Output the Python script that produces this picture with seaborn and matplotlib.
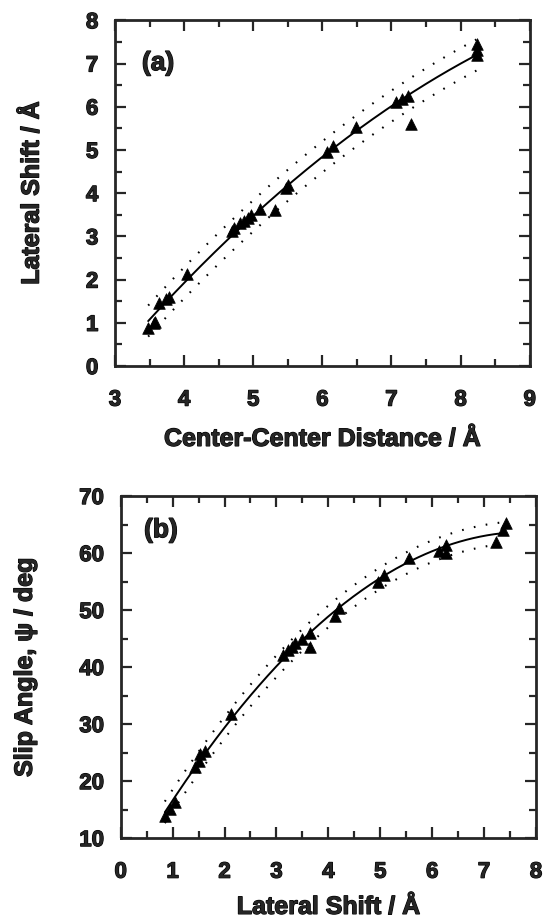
import numpy as np
import pandas as pd
import matplotlib
matplotlib.use("Agg")
import matplotlib.pyplot as plt
import matplotlib.patheffects as pe
from matplotlib.ticker import MultipleLocator
import seaborn as sns

# ---- data ----
a_distance = [3.48, 3.56, 3.58, 3.64, 3.74, 3.78, 4.04, 4.69, 4.72, 4.81, 4.86, 4.92,
              4.97, 5.10, 5.32, 5.47, 5.50, 6.06, 6.15, 6.49, 7.06, 7.15, 7.24, 7.28,
              8.23, 8.23, 8.24]
a_shift = [0.87, 0.99, 1.03, 1.46, 1.55, 1.60, 2.13, 3.13, 3.20, 3.30, 3.36, 3.42,
           3.49, 3.64, 3.62, 4.13, 4.20, 4.96, 5.10, 5.52, 6.11, 6.18, 6.24, 5.61,
           7.20, 7.31, 7.46]

b_shift = [0.85, 0.95, 1.04, 1.43, 1.51, 1.53, 1.62, 2.13, 3.13, 3.22, 3.30, 3.35,
           3.50, 3.64, 3.64, 4.12, 4.20, 4.95, 5.08, 5.55, 6.13, 6.26, 6.26, 7.22,
           7.36, 7.42]
b_angle = [13.8, 15.1, 16.4, 22.4, 23.6, 24.8, 25.2, 31.8, 42.1, 43.0, 43.6, 44.2,
           45.0, 45.9, 43.5, 49.0, 50.4, 55.0, 56.1, 59.1, 60.4, 61.4, 60.0, 61.9,
           64.1, 65.2]

a_band = 0.36   # half-width of dotted band (Å)
b_band = 1.9    # half-width of dotted band (deg)

sns.set_style("ticks")
plt.rcParams['font.family'] = ['Liberation Sans', 'DejaVu Sans']
plt.rcParams['font.weight'] = 'bold'
plt.rcParams['axes.labelweight'] = 'bold'

HEAVY = [pe.withStroke(linewidth=0.9, foreground='black')]

fig = plt.figure(figsize=(5.45, 9.22), dpi=100)
ax1 = fig.add_axes([0.211, 0.603, 0.761, 0.375])
ax2 = fig.add_axes([0.2215, 0.091, 0.762, 0.371])


def fit_curve(x, y, deg=2, n=200):
    x = np.asarray(x); y = np.asarray(y)
    c = np.polyfit(x, y, deg)
    xs = np.linspace(x.min(), x.max(), n)
    return xs, np.polyval(c, xs)


def draw(ax, x, y, band):
    df = pd.DataFrame({'x': x, 'y': y})
    xs, ys = fit_curve(x, y)
    fit = pd.DataFrame({'x': xs, 'y': ys, 'lo': ys - band, 'hi': ys + band})
    sns.lineplot(data=fit, x='x', y='y', ax=ax, color='black', lw=1.4)
    sns.lineplot(data=fit, x='x', y='hi', ax=ax, color='black', lw=1.5,
                 linestyle=(0, (0.8, 5)))
    sns.lineplot(data=fit, x='x', y='lo', ax=ax, color='black', lw=1.5,
                 linestyle=(0, (0.8, 5)))
    sns.scatterplot(data=df, x='x', y='y', ax=ax, marker='^', s=70,
                    color='black', edgecolor='black', linewidth=0.5, zorder=5)


draw(ax1, a_distance, a_shift, a_band)
draw(ax2, b_shift, b_angle, b_band)

ax1.set_xlim(3, 9)
ax1.set_ylim(0, 8)
ax1.xaxis.set_major_locator(MultipleLocator(1))
ax1.xaxis.set_minor_locator(MultipleLocator(0.5))
ax1.yaxis.set_major_locator(MultipleLocator(1))
ax1.yaxis.set_minor_locator(MultipleLocator(0.5))
ax1.set_xlabel('Center-Center Distance / Å', fontsize=18, fontweight='bold')
ax1.set_ylabel('Lateral Shift / Å', fontsize=18, fontweight='bold')
ax1.xaxis.set_label_coords(0.5, -0.176)
ax1.yaxis.set_label_coords(-0.172, 0.5)
ax1.text(0.104, 0.876, '(a)', transform=ax1.transAxes, fontsize=19,
         fontweight='bold', ha='center', va='center', path_effects=HEAVY)

ax2.set_xlim(0, 8)
ax2.set_ylim(10, 70)
ax2.xaxis.set_major_locator(MultipleLocator(1))
ax2.xaxis.set_minor_locator(MultipleLocator(0.5))
ax2.yaxis.set_major_locator(MultipleLocator(10))
ax2.yaxis.set_minor_locator(MultipleLocator(5))
ax2.set_xlabel('Lateral Shift / Å', fontsize=18, fontweight='bold')
ax2.set_ylabel('Slip Angle, ψ / deg', fontsize=18, fontweight='bold')
ax2.xaxis.set_label_coords(0.5, -0.166)
ax2.yaxis.set_label_coords(-0.202, 0.5)
ax2.text(0.097, 0.90, '(b)', transform=ax2.transAxes, fontsize=19,
         fontweight='bold', ha='center', va='center', path_effects=HEAVY)

for ax in (ax1, ax2):
    for s in ax.spines.values():
        s.set_linewidth(2.0)
        s.set_visible(True)
    ax.tick_params(which='both', direction='in', top=True, right=True,
                   width=1.6, labelsize=16)
    ax.tick_params(axis='x', which='major', length=8, pad=17)
    ax.tick_params(axis='y', which='major', length=8, pad=12)
    ax.tick_params(which='minor', length=5)
    for lab in ax.get_xticklabels() + ax.get_yticklabels():
        lab.set_fontweight('bold')
        lab.set_path_effects(HEAVY)
    ax.xaxis.label.set_path_effects(HEAVY)
    ax.yaxis.label.set_path_effects(HEAVY)

fig.savefig('out.png', dpi=100)
